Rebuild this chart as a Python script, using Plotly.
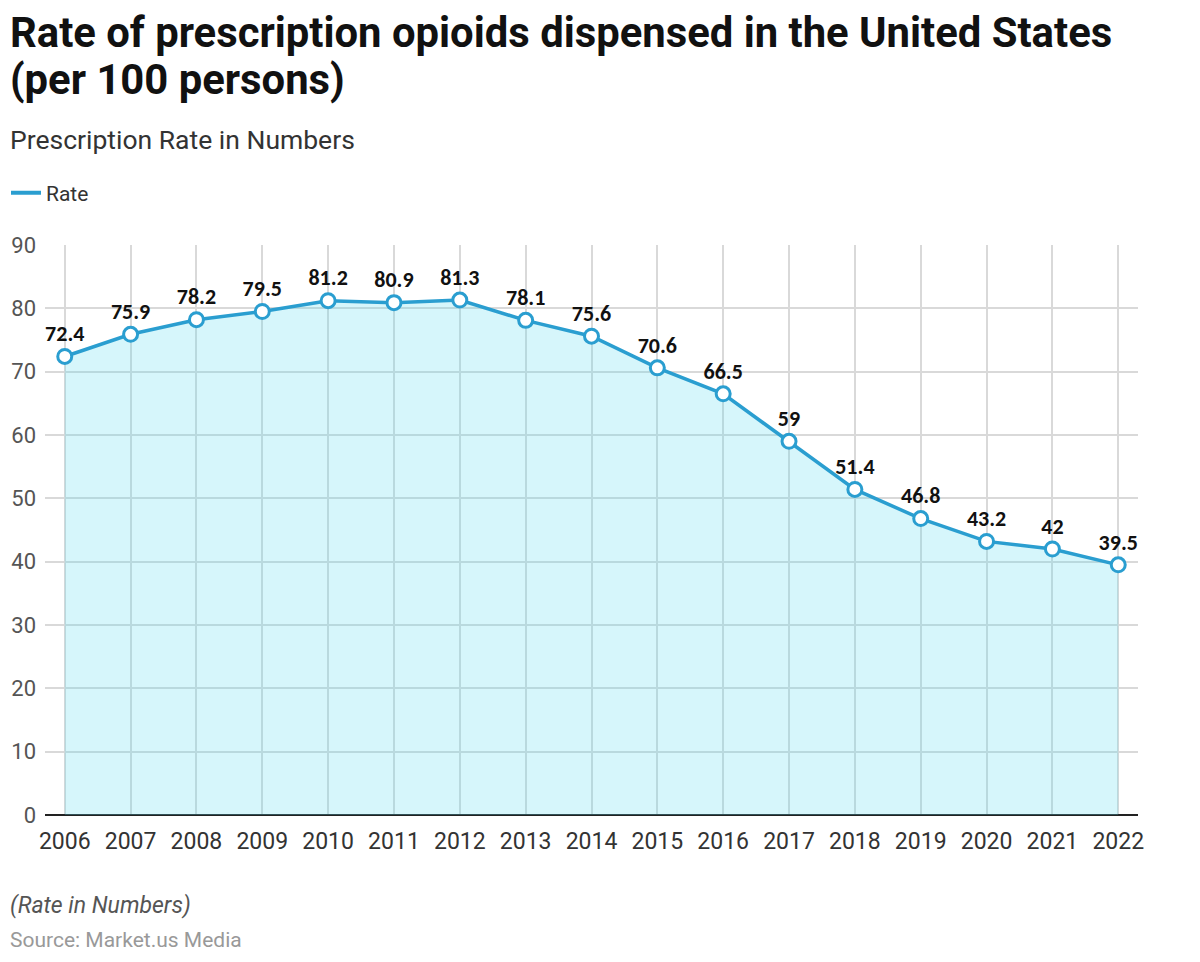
import plotly.graph_objects as go

years = list(range(2006, 2023))
rates = [72.4, 75.9, 78.2, 79.5, 81.2, 80.9, 81.3, 78.1, 75.6, 70.6, 66.5, 59, 51.4, 46.8, 43.2, 42, 39.5]
labels = ["72.4", "75.9", "78.2", "79.5", "81.2", "80.9", "81.3", "78.1", "75.6", "70.6", "66.5", "59", "51.4", "46.8", "43.2", "42", "39.5"]
yticks = [0, 10, 20, 30, 40, 50, 60, 70, 80, 90]

W, H = 1200, 962
L, R, T, B = 37, 70, 237, 155
pw, ph = W - L - R, H - T - B

def px(x):
    return (x - L) / pw

def py(y):
    return (H - B - y) / ph

BLUE = "#2a9ed0"

fig = go.Figure()
fig.add_trace(go.Scatter(
    x=years, y=rates, name="Rate", mode="lines+markers+text", showlegend=False,
    line=dict(color=BLUE, width=3.5),
    fill="tozeroy", fillcolor="rgba(90,220,240,0.25)",
    marker=dict(size=14, color="white", line=dict(color=BLUE, width=3)),
    text=labels, textposition="top center",
    textfont=dict(family="Carlito, Liberation Sans, DejaVu Sans", size=22, color="#111"),
    texttemplate="<b>%{text}</b>",
    cliponaxis=False,
))
fig.add_trace(go.Scatter(
    x=[None], y=[None], name="Rate", mode="lines",
    line=dict(color=BLUE, width=4), showlegend=True,
))

fig.update_layout(
    width=W, height=H,
    margin=dict(l=L, r=R, t=T, b=B, autoexpand=False),
    plot_bgcolor="white", paper_bgcolor="white",
    showlegend=True,
    legend=dict(orientation="h", x=px(-2), y=py(185), xanchor="left", yanchor="middle",
                font=dict(family="Roboto", size=21, color="#333"),
                itemwidth=30),
    xaxis=dict(range=[2005.7, 2022.3], tickmode="array", tickvals=years,
               ticktext=[str(y) for y in years], showgrid=True, gridcolor="#d9d9d9",
               gridwidth=1.5, zeroline=False, showline=False, automargin=False,
               tickfont=dict(family="Roboto", size=23, color="#333"), ticks="",
               ticklabelstandoff=10),
    yaxis=dict(range=[0, 90], tickvals=yticks, showgrid=True, automargin=False,
               gridcolor="#d9d9d9", gridwidth=1.5, zeroline=True, zerolinecolor="#222",
               zerolinewidth=2, tickfont=dict(family="Roboto", size=22, color="#555"),
               ticks="", ticklabelstandoff=8),
    annotations=[
        dict(text="<b>Rate of prescription opioids dispensed in the United States</b>",
             xref="paper", yref="paper", x=px(0), y=py(25), xanchor="left", yanchor="middle",
             showarrow=False, align="left",
             font=dict(family="Roboto", size=41.8, color="#111")),
        dict(text="<b>(per 100 persons)</b>",
             xref="paper", yref="paper", x=px(0), y=py(71), xanchor="left", yanchor="middle",
             showarrow=False, align="left",
             font=dict(family="Roboto", size=41.8, color="#111")),
        dict(text="Prescription Rate in Numbers", xref="paper", yref="paper",
             x=px(0), y=py(131), xanchor="left", yanchor="middle", showarrow=False,
             font=dict(family="Roboto", size=26.5, color="#333")),
        dict(text="<i>(Rate in Numbers)</i>", xref="paper", yref="paper",
             x=px(0), y=py(897), xanchor="left", yanchor="middle", showarrow=False,
             font=dict(family="Roboto", size=23, color="#555")),
        dict(text="Source: Market.us Media", xref="paper", yref="paper",
             x=px(0), y=py(932), xanchor="left", yanchor="middle", showarrow=False,
             font=dict(family="Roboto", size=21, color="#999")),
    ],
)

fig.write_html("out.html")
